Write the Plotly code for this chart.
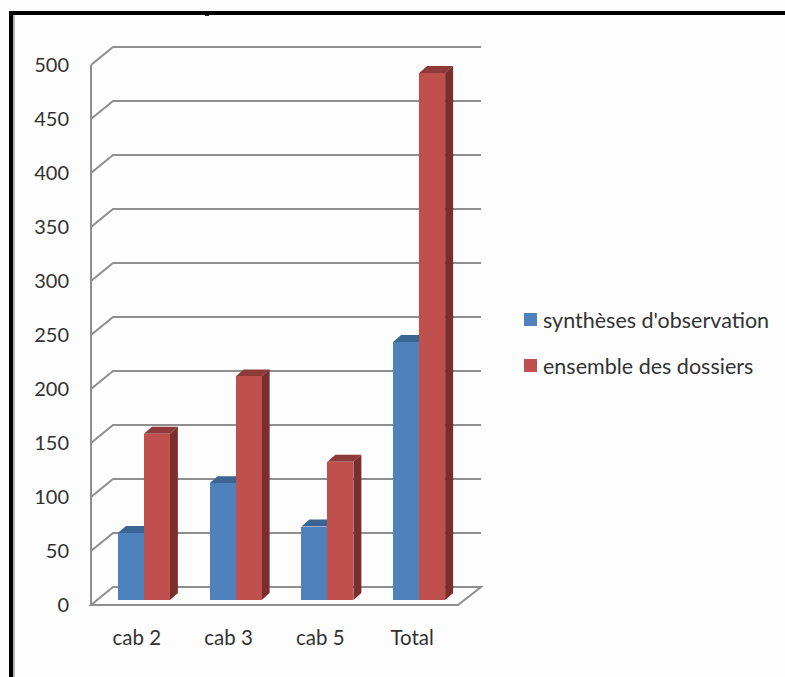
import plotly.graph_objects as go

categories = ["cab 2", "cab 3", "cab 5", "Total"]
syntheses = [62, 108, 68, 239]
dossiers = [154, 207, 128, 488]
series_names = ["synthèses d'observation", "ensemble des dossiers"]
y_ticks = [0, 50, 100, 150, 200, 250, 300, 350, 400, 450, 500]

W, H = 785, 677
BLUE, RED = "#4f81bd", "#c0504d"
BLUE_TOP, RED_TOP, RED_SIDE = "#3a6492", "#8e3a38", "#7a2f2d"
GRID = "#8f8f8f"
INK = "#333333"
FONT = "Lato, Carlito, sans-serif"

# Front plane of the pseudo-3D box, in pixels
FX0, FX1, FY0, FY500 = 91.0, 458.0, 605.0, 65.0
PX_PER_CAT = (FX1 - FX0) / len(categories)
PX_PER_VAL = (FY0 - FY500) / 500.0
WALL_DX, WALL_DY = 22.0 / PX_PER_CAT, 18.0 / PX_PER_VAL     # box depth
BAR_DX, BAR_DY = 7.0 / PX_PER_CAT, 5.0 / PX_PER_VAL         # bars sit inside the box
DEPTH_DX, DEPTH_DY = 8.0 / PX_PER_CAT, 7.0 / PX_PER_VAL     # depth of one bar
BAR_W = 26.0 / PX_PER_CAT
PAD = 3.0                                                    # room so edges are not clipped

# Plot area is the whole box plus the pad
px_l, px_r = FX0 - PAD, FX1 + 23 + PAD
px_t, px_b = FY500 - 18 - PAD, FY0 + PAD
xr = [-0.5 - PAD / PX_PER_CAT, len(categories) - 0.5 + (23 + PAD) / PX_PER_CAT]
yr = [-PAD / PX_PER_VAL, 500 + (18 + PAD) / PX_PER_VAL]
X_L, X_R = -0.5, len(categories) - 0.5

xs = list(range(len(categories)))
fig = go.Figure()
fig.add_bar(x=[i + BAR_DX for i in xs], y=syntheses, base=[BAR_DY] * len(xs), name=series_names[0],
            marker=dict(color=BLUE, line_width=0), width=BAR_W, offset=-BAR_W, showlegend=False)
fig.add_bar(x=[i + BAR_DX for i in xs], y=dossiers, base=[BAR_DY] * len(xs), name=series_names[1],
            marker=dict(color=RED, line_width=0), width=BAR_W, offset=0, showlegend=False)


def poly(points, **kw):
    d = "M" + " L".join(f"{a},{b}" for a, b in points) + " Z"
    return dict(type="path", path=d, xref="x", yref="y", layer="below", **kw)


shapes = []
# Floor
shapes.append(poly([(X_L, 0), (X_R, 0), (X_R + 23 / PX_PER_CAT, WALL_DY), (X_L + WALL_DX, WALL_DY)],
                   line=dict(color=GRID, width=2), fillcolor="rgba(0,0,0,0)"))
# Left wall edge
shapes.append(dict(type="line", xref="x", yref="y", layer="below", x0=X_L, x1=X_L, y0=0, y1=500,
                   line=dict(color=GRID, width=2)))
# Gridlines folded along the side wall and back wall
for v in y_ticks[1:]:
    d = f"M{X_L},{v} L{X_L + WALL_DX},{v + WALL_DY} L{X_R + 23 / PX_PER_CAT},{v + WALL_DY}"
    shapes.append(dict(type="path", path=d, xref="x", yref="y", layer="below",
                       line=dict(color=GRID, width=2)))
# Top and side faces of the bars (the front faces are the bar traces)
for i in xs:
    c = i + BAR_DX
    a, b = syntheses[i] + BAR_DY, dossiers[i] + BAR_DY
    shapes.append(poly([(c - BAR_W, a), (c, a), (c + DEPTH_DX, a + DEPTH_DY), (c - BAR_W + DEPTH_DX, a + DEPTH_DY)],
                       line_width=0, fillcolor=BLUE_TOP))
    shapes.append(poly([(c, b), (c + BAR_W, b), (c + BAR_W + DEPTH_DX, b + DEPTH_DY), (c + DEPTH_DX, b + DEPTH_DY)],
                       line_width=0, fillcolor=RED_TOP))
    shapes.append(poly([(c + BAR_W, b), (c + BAR_W + DEPTH_DX, b + DEPTH_DY),
                        (c + BAR_W + DEPTH_DX, BAR_DY + DEPTH_DY), (c + BAR_W, BAR_DY)],
                       line_width=0, fillcolor=RED_SIDE))


def paper_rect(x0, y0, x1, y1, color):
    return dict(type="rect", xref="paper", yref="paper", x0=x0 / W, x1=x1 / W,
                y0=1 - y1 / H, y1=1 - y0 / H, line_width=0, fillcolor=color, layer="above")


# Frame of the pasted picture: top and left edges only
shapes += [paper_rect(9, 11, 785, 15, "#000000"),
           paper_rect(9, 11, 13, 677, "#000000"),
           paper_rect(13, 15, 15, 677, "#b5b5b5"),
           paper_rect(205, 15, 209, 16, "#222222")]
# Legend keys
shapes += [paper_rect(524, 313, 537, 326, BLUE), paper_rect(524, 359, 537, 372, RED)]

annotations = [
    dict(x=541 / W, y=1 - 320 / H, text=series_names[0]),
    dict(x=541 / W, y=1 - 365.5 / H, text=series_names[1]),
]
for a in annotations:
    a.update(xref="paper", yref="paper", xanchor="left", yanchor="middle", showarrow=False,
             font=dict(family=FONT, size=21.5, color=INK))

fig.update_layout(
    width=W, height=H, autosize=False,
    margin=dict(l=0, r=0, t=0, b=0),
    paper_bgcolor="#fdfdfd", plot_bgcolor="rgba(0,0,0,0)",
    barmode="overlay", bargap=0,
    shapes=shapes, annotations=annotations,
    font=dict(family=FONT, size=20, color=INK),
    xaxis=dict(domain=[px_l / W, px_r / W], range=xr, tickmode="array", tickvals=xs, ticktext=categories,
               showgrid=False, zeroline=False, showline=False, ticks="", ticklabelstandoff=15,
               automargin=False, tickfont=dict(size=20.5)),
    yaxis=dict(domain=[1 - px_b / H, 1 - px_t / H], range=yr, tickmode="array", tickvals=y_ticks,
               showgrid=False, zeroline=False, showline=False, ticks="", ticklabelstandoff=18,
               automargin=False),
)
fig.write_html("out.html", config={"displayModeBar": False}, default_width=W, default_height=H,
               post_script="document.body.style.margin='0';document.body.style.background='#fdfdfd';")
